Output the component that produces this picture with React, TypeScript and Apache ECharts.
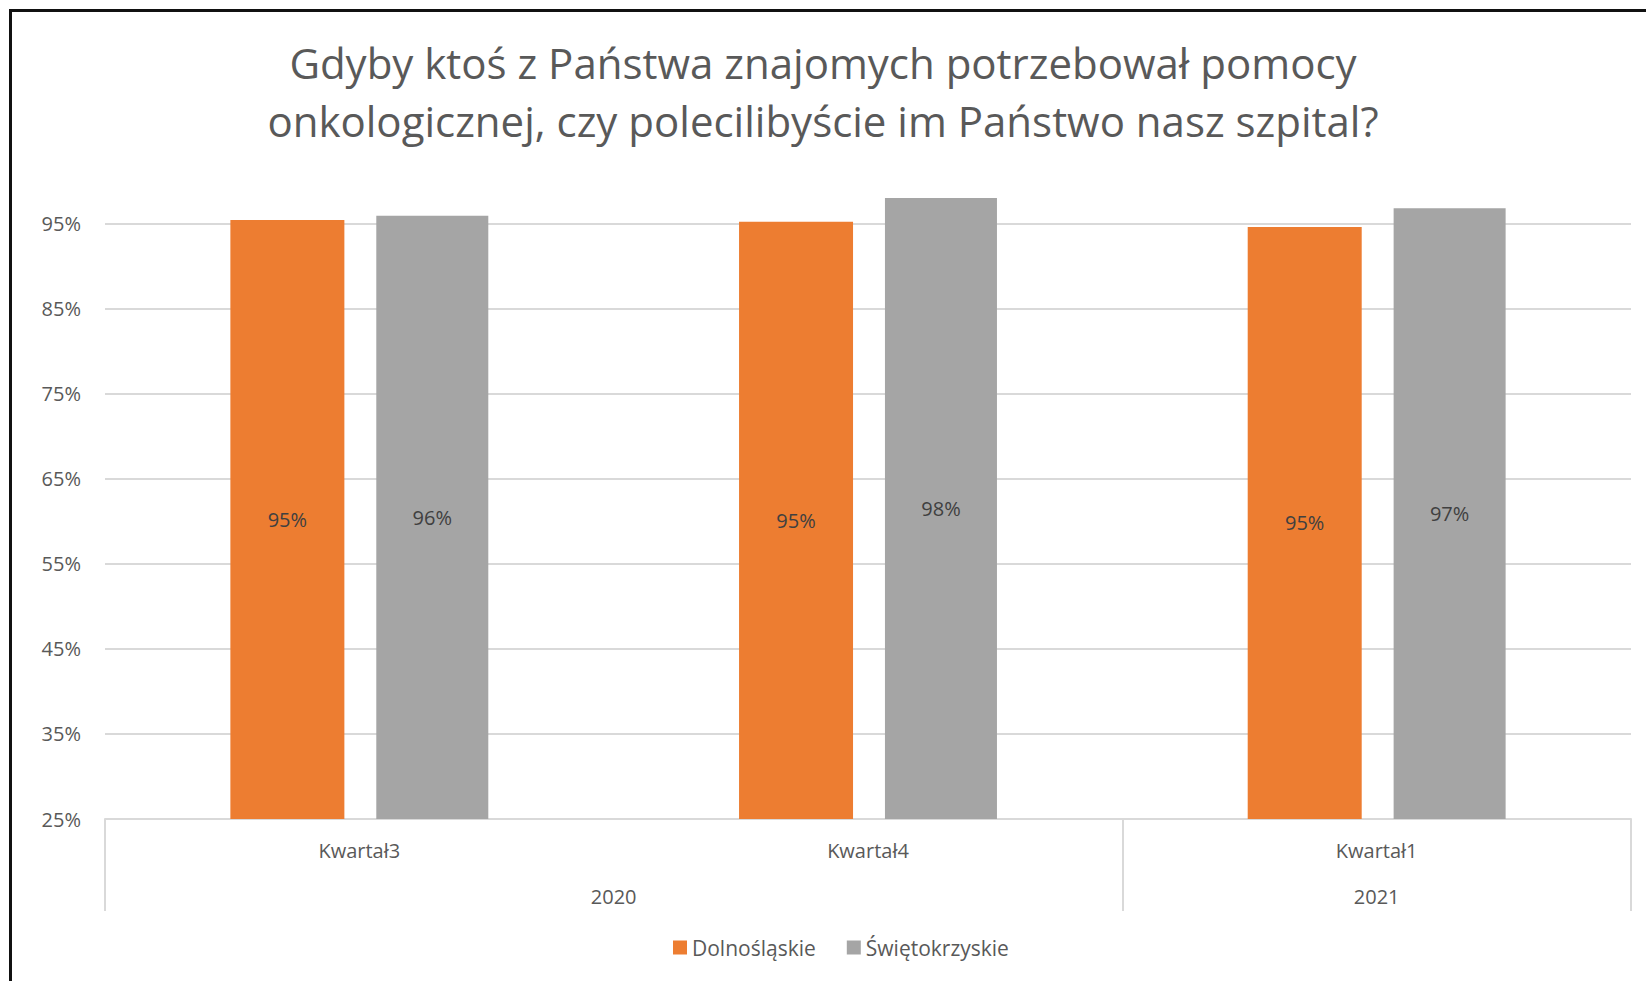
import React, { useEffect, useRef } from "react";
import * as echarts from "echarts";

const titleText =
  "Gdyby ktoś z Państwa znajomych potrzebował pomocy\nonkologicznej, czy polecilibyście im Państwo nasz szpital?";
const quarters = ["Kwartał3", "Kwartał4", "Kwartał1"];
const yearSlots = ["", "", "2020", "", "", "2021", ""];
const yearSeparatorSlots = [0, 4, 6];
const seriesNames = ["Dolnośląskie", "Świętokrzyskie"];
const dolnoslaskie = [95.4, 95.2, 94.6];
const swietokrzyskie = [95.9, 98.0, 96.8];
const yMin = 25;
const yMax = 99;
const yStep = 10;

const FONT = "'Open Sans', 'Noto Sans', sans-serif";
const TEXT = "#595959";
const GRID = "#d9d9d9";

export default function App() {
  const ref = useRef<HTMLDivElement>(null);

  useEffect(() => {
    if (!ref.current) return;
    const chart = echarts.init(ref.current, undefined, { renderer: "svg" });
    const labelStyle = {
      show: true,
      position: "inside",
      color: "#404040",
      fontSize: 20,
      fontFamily: FONT,
      formatter: (p: any) => `${Math.round(p.value)}%`,
    };
    const gridColors = [GRID, GRID, GRID, GRID, GRID, GRID, GRID, GRID, "rgba(0,0,0,0)"];
    chart.setOption({
      animation: false,
      backgroundColor: "#ffffff",
      textStyle: { fontFamily: FONT },
      title: {
        text: titleText,
        left: "center",
        top: 28,
        textStyle: {
          fontFamily: FONT,
          fontSize: 42,
          fontWeight: "normal",
          color: TEXT,
          lineHeight: 58,
        },
      },
      legend: {
        left: 673,
        top: 937,
        padding: 0,
        icon: "rect",
        itemWidth: 14,
        itemHeight: 14,
        itemGap: 31,
        data: seriesNames,
        textStyle: { fontFamily: FONT, fontSize: 21, color: TEXT },
      },
      grid: { left: 105, right: 15, top: 189.5, bottom: 162, containLabel: false },
      xAxis: [
        {
          type: "category",
          data: quarters,
          position: "bottom",
          axisLine: { show: true, lineStyle: { color: GRID, width: 2 } },
          axisTick: { show: false },
          axisLabel: { color: TEXT, fontSize: 20, fontFamily: FONT, margin: 21 },
          splitLine: { show: false },
        },
        {
          type: "category",
          data: yearSlots,
          boundaryGap: false,
          position: "bottom",
          axisLine: { show: false },
          axisTick: {
            show: true,
            length: 92,
            interval: (i: number) => yearSeparatorSlots.includes(i),
            lineStyle: { color: GRID, width: 2 },
          },
          axisLabel: {
            color: TEXT,
            fontSize: 20,
            fontFamily: FONT,
            margin: 67,
            interval: (_i: number, v: string) => v !== "",
          },
          splitLine: { show: false },
        },
      ],
      yAxis: {
        type: "value",
        min: yMin,
        max: yMax,
        interval: yStep,
        axisLine: { show: false },
        axisTick: { show: false },
        axisLabel: {
          color: TEXT,
          fontSize: 20,
          fontFamily: FONT,
          margin: 24,
          showMaxLabel: false,
          formatter: (v: number) => `${v}%`,
        },
        splitLine: {
          show: true,
          showMaxLine: false,
          lineStyle: { color: gridColors, width: 2 },
        },
      },
      series: [
        {
          name: seriesNames[0],
          type: "bar",
          xAxisIndex: 0,
          data: dolnoslaskie,
          barWidth: 114,
          barGap: "28%",
          itemStyle: { color: "#ed7d31" },
          label: labelStyle,
        },
        {
          name: seriesNames[1],
          type: "bar",
          xAxisIndex: 0,
          data: swietokrzyskie,
          barWidth: 112,
          barGap: "28%",
          itemStyle: { color: "#a5a5a5" },
          label: labelStyle,
        },
      ],
      graphic: [
        {
          type: "line",
          shape: { x1: 10.5, y1: 9, x2: 10.5, y2: 981 },
          style: { stroke: "#111111", lineWidth: 3 },
        },
        {
          type: "line",
          shape: { x1: 9, y1: 10.5, x2: 1646, y2: 10.5 },
          style: { stroke: "#111111", lineWidth: 3 },
        },
      ],
    });
    return () => chart.dispose();
  }, []);

  return (
    <div
      ref={ref}
      style={{ position: "fixed", left: 0, top: 0, width: 1646, height: 981, background: "#fff" }}
    />
  );
}
